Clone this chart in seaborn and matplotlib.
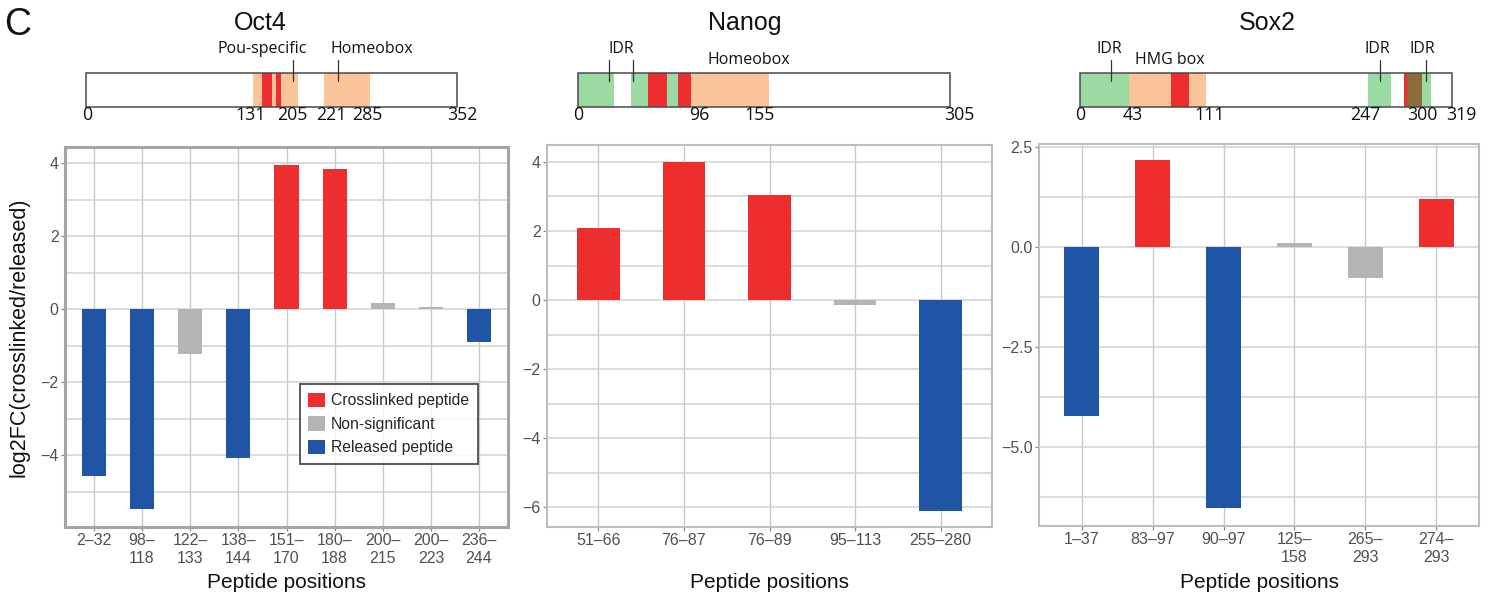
import matplotlib
matplotlib.use("Agg")
import matplotlib.pyplot as plt
from matplotlib.ticker import MultipleLocator
from matplotlib.patches import Patch, Rectangle
import seaborn as sns
import pandas as pd

# ---------------- data ----------------
oct4_pos = ["2–32", "98–\n118", "122–\n133", "138–\n144", "151–\n170", "180–\n188", "200–\n215", "200–\n223", "236–\n244"]
oct4_val = [-4.57, -5.49, -1.24, -4.07, 3.94, 3.85, 0.18, 0.05, -0.90]
oct4_cat = ["Released", "Released", "NS", "Released", "Crosslinked", "Crosslinked", "NS", "NS", "Released"]

nanog_pos = ["51–66", "76–87", "76–89", "95–113", "255–280"]
nanog_val = [2.08, 4.00, 3.04, -0.13, -6.10]
nanog_cat = ["Crosslinked", "Crosslinked", "Crosslinked", "NS", "Released"]

sox2_pos = ["1–37", "83–97", "90–97", "125–\n158", "265–\n293", "274–\n293"]
sox2_val = [-4.23, 2.18, -6.53, 0.10, -0.76, 1.21]
sox2_cat = ["Released", "Crosslinked", "Released", "NS", "NS", "Crosslinked"]

legend_labels = ["Crosslinked peptide", "Non-significant", "Released peptide"]
proteins = ["Oct4", "Nanog", "Sox2"]
lengths = [352, 305, 319]

# domain diagrams (schematic positions in residues): (start, end, kind)
oct4_dom = [(158, 201, "dom"), (167, 176, "red"), (180, 185, "red"), (226, 269, "dom")]
nanog_dom = [(0, 29.7, "idr"), (43.4, 57, "idr"), (57, 72.5, "red"), (72.5, 81.5, "idr"),
             (81.5, 92.5, "red"), (92.5, 156.5, "dom")]
sox2_dom = [(0, 42, "idr"), (42, 78, "dom"), (78, 93.5, "red"), (93.5, 108, "dom"),
            (247, 267, "idr"), (278, 280.7, "red"), (280.7, 293.6, "mix"), (293.6, 301, "idr")]
# numeric labels under the diagrams: (text, position)
oct4_num = [("0", 1), ("131", 156), ("205", 196), ("221", 233), ("285", 267), ("352", 357)]
nanog_num = [("0", 0), ("96", 99), ("155", 149), ("305", 313)]
sox2_num = [("0", 0), ("43", 45.5), ("111", 111), ("247", 245), ("300", 294), ("319", 327)]
# annotations: (text, text_x, text_row, [pointer x positions])
oct4_ann = [("Pou-specific", 167, 0, [196]), ("Homeobox", 271, 0, [239])]
nanog_ann = [("IDR", 35, 0, [25, 44.6]), ("Homeobox", 140, 1, [])]
sox2_ann = [("IDR", 25, 0, [26.6]), ("HMG box", 77, 1, []), ("IDR", 255.5, 0, [257.5]), ("IDR", 294, 0, [296.7])]

# ---------------- style ----------------
RED, GRAY, BLUE = "#EE2E2E", "#B2B4B5", "#1F55A4"
pal = {"Crosslinked": RED, "NS": GRAY, "Released": BLUE}
dom_col = {"dom": "#F9C49A", "red": RED, "idr": "#9BDBA3", "mix": "#8E6B3B"}

sns.set_style("white")
plt.rcParams["font.family"] = ["Liberation Sans", "DejaVu Sans"]

W, H = 1493, 598
fig = plt.figure(figsize=(W / 100, H / 100), dpi=100)


def rect(l, t, r, b):
    return [l / W, 1 - b / H, (r - l) / W, (b - t) / H]


bar_boxes = [(65, 147, 508, 527), (547, 145, 992, 527), (1039, 144, 1479, 526)]
ylims = [(-5.97, 4.44), (-6.57, 4.49), (-6.97, 2.58)]
majors = [2, 2, 2.5]
minors = [1, 1, 1.25]
datasets = [(oct4_pos, oct4_val, oct4_cat), (nanog_pos, nanog_val, nanog_cat), (sox2_pos, sox2_val, sox2_cat)]

axes = []
for i, (box, (pos, val, cat)) in enumerate(zip(bar_boxes, datasets)):
    ax = fig.add_axes(rect(*box))
    df = pd.DataFrame({"pos": pos, "val": val, "cat": cat})
    sns.barplot(data=df, x="pos", y="val", hue="cat", palette=pal, dodge=False,
                width=0.5, order=pos, saturation=1, legend=False, ax=ax, linewidth=0)
    n = len(pos)
    ax.set_xlim(-0.6, n - 0.4)
    ax.set_ylim(*ylims[i])
    ax.yaxis.set_major_locator(MultipleLocator(majors[i]))
    ax.yaxis.set_minor_locator(MultipleLocator(minors[i]))
    ax.set_axisbelow(True)
    ax.grid(True, which="both", axis="y", color="#D2D2D2", lw=1.1)
    ax.grid(True, which="major", axis="x", color="#C8C8C8", lw=1.0)
    ax.tick_params(axis="both", which="major", length=3, width=0.9, color="#888888",
                   labelcolor="#505050", labelsize=11.5, pad=1.5, left=True, bottom=True)
    ax.tick_params(axis="y", which="minor", length=0, left=False)
    for lab in ax.get_xticklabels():
        lab.set_linespacing(1.2)
    ax.set_ylabel("")
    ax.set_xlabel("Peptide positions", fontsize=15, color="#111111")
    ax.xaxis.set_label_coords(0.5, -(573 - box[3]) / (box[3] - box[1]))
    if i == 0:
        for s in ax.spines.values():
            s.set_color("#A5A5A5")
            s.set_linewidth(2.2)
    else:
        for s in ax.spines.values():
            s.set_color("#BDBDBD")
            s.set_linewidth(1.5)
    axes.append(ax)

fig.text(19 / W, 1 - 337 / H, "log2FC(crosslinked/released)", rotation=90,
         ha="center", va="center", fontsize=15.5, color="#111111")

handles = [Patch(facecolor=c, edgecolor="none") for c in (RED, GRAY, BLUE)]
leg = axes[0].legend(handles, legend_labels, loc="upper left", bbox_to_anchor=(0.530, 0.376),
                     frameon=True, fancybox=False, fontsize=11.3, handlelength=1.05,
                     handleheight=1.05, handletextpad=0.4, labelspacing=0.5, borderpad=0.55,
                     borderaxespad=0)
leg.get_frame().set_edgecolor("#222222")
leg.get_frame().set_linewidth(1.3)

# ---------------- domain diagrams ----------------
diag_boxes = [(86, 73, 457, 107), (578.3, 73, 950, 107), (1080, 73, 1451.7, 107)]
doms = [oct4_dom, nanog_dom, sox2_dom]
nums = [oct4_num, nanog_num, sox2_num]
anns = [oct4_ann, nanog_ann, sox2_ann]
title_x = [260, 745, 1267]
dfont = ["Open Sans", "DejaVu Sans"]
for i in range(3):
    dax = fig.add_axes(rect(*diag_boxes[i]))
    L = lengths[i]
    dax.set_xlim(0, L)
    dax.set_ylim(0, 1)
    dax.axis("off")
    for (s, e, k) in doms[i]:
        dax.broken_barh([(s, e - s)], (0, 1), facecolors=dom_col[k], edgecolor="none")
    dax.add_patch(Rectangle((0, 0), L, 1, fill=False, edgecolor="#4A4A4A", lw=1.1, clip_on=False))
    for (t, x) in nums[i]:
        dax.text(x, -0.38, t, ha="center", va="baseline", fontsize=12.8, family=dfont, color="#111111")
    for (t, x, row, ptrs) in anns[i]:
        yb = 1.58 if row == 0 else 1.26
        dax.text(x, yb, t, ha="center", va="baseline", fontsize=11.5, family=dfont,
                 color="#111111", clip_on=False)
        for px in ptrs:
            dax.plot([px, px], [0.76, 1.38], color="#333333", lw=0.9, clip_on=False)
    fig.text(title_x[i] / W, 1 - 30 / H, proteins[i], ha="center", va="baseline",
             fontsize=18, color="#111111")

fig.text(4 / W, 1 - 35 / H, "C", ha="left", va="baseline", fontsize=27, color="#111111")

fig.savefig("out.png", dpi=100)
